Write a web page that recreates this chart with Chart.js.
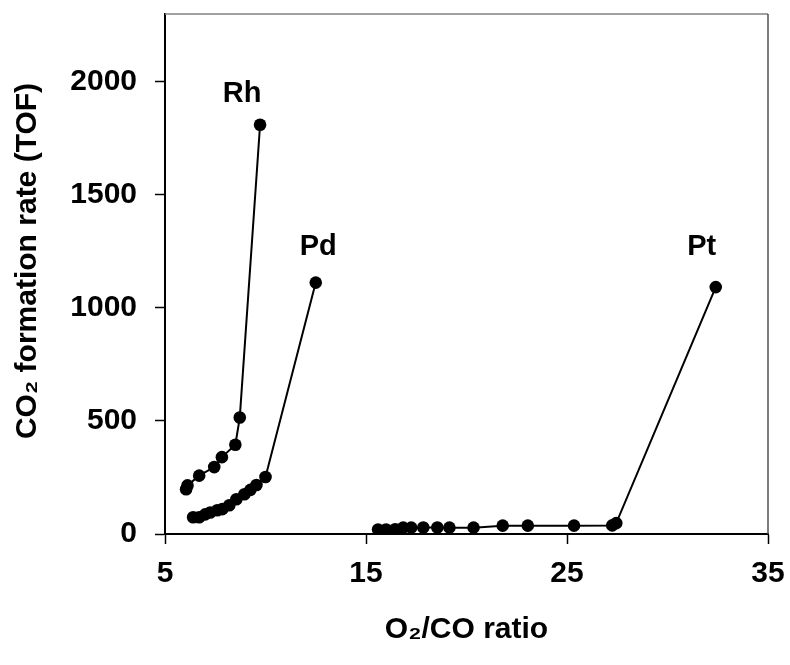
<!DOCTYPE html>
<html>
<head>
<meta charset="utf-8">
<script src="https://cdn.jsdelivr.net/npm/chart.js@4"></script>
<style>
    html, body { margin: 0; padding: 0; background: #fff; }
    #wrap { width: 790px; height: 665px; }
</style>
</head>
<body>
<div id="wrap"><canvas id="chart"></canvas></div>
<script>
// O2/CO ratio vs CO2 formation rate
const rhX = [6.05, 6.12, 6.7, 7.45, 7.83, 8.5, 8.72, 9.73];
const rhY = [198, 215, 258, 296, 340, 395, 515, 1810];

const pdX = [6.4, 6.7, 7.0, 7.25, 7.6, 7.85, 8.2, 8.55, 8.95, 9.25, 9.55, 10.0, 12.5];
const pdY = [74, 74, 87, 95, 105, 110, 127, 154, 176, 195, 217, 252, 1112];

const ptX = [15.6, 16.0, 16.45, 16.85, 17.25, 17.85, 18.55, 19.15, 20.35, 21.8, 23.05, 25.35, 27.25, 27.45, 32.4];
const ptY = [20, 20, 21, 28, 28, 29, 29, 28, 28, 37, 37, 37, 38, 48, 1092];

const xTicks = [5, 15, 25, 35];
const yTicks = [0, 500, 1000, 1500, 2000];

const metalNames = ["Rh", "Pd", "Pt"];
// where each metal's name sits, in data units
const metalLabelAt = [[8.84, 1947], [12.62, 1270], [31.7, 1270]];

const yTitle = "CO₂ formation rate (TOF)";
const xTitle = "O₂/CO ratio";

const FONT = "'Liberation Sans', Arial, sans-serif";

function toPoints(xs, ys) {
    return xs.map((x, i) => ({ x: x, y: ys[i] }));
}

function series(xs, ys) {
    return {
        data: toPoints(xs, ys),
        borderColor: "#000",
        backgroundColor: "#000",
        borderWidth: 2,
        pointRadius: 6.3,
        pointBorderWidth: 0,
        tension: 0,
        showLine: true,
    };
}

const framePlugin = {
    id: "frame",
    beforeDatasetsDraw(chart) {
        const { ctx, chartArea: a } = chart;
        ctx.save();
        ctx.strokeStyle = "#808080";
        ctx.lineWidth = 1.5;
        ctx.beginPath();
        ctx.moveTo(a.left, a.top);
        ctx.lineTo(a.right, a.top);
        ctx.stroke();
        ctx.strokeStyle = "#505050";
        ctx.beginPath();
        ctx.moveTo(a.right, a.top);
        ctx.lineTo(a.right, a.bottom);
        ctx.stroke();
        ctx.restore();
    },
    afterDatasetsDraw(chart) {
        const { ctx, scales, chartArea: a } = chart;
        ctx.save();
        ctx.fillStyle = "#000";
        ctx.font = "bold 29px " + FONT;
        ctx.textAlign = "center";
        ctx.textBaseline = "middle";
        metalNames.forEach((name, i) => {
            const [lx, ly] = metalLabelAt[i];
            ctx.fillText(name, scales.x.getPixelForValue(lx), scales.y.getPixelForValue(ly));
        });

        // y title sits a bit above the middle of the axis in the original
        ctx.font = "bold 30px " + FONT;
        ctx.translate(28, (a.top + a.bottom) / 2 - 13);
        ctx.rotate(-Math.PI / 2);
        ctx.fillText(yTitle, 0, 0);
        ctx.restore();
    },
};

const tickFont = { family: FONT, size: 30, weight: "bold" };
const titleFont = { family: FONT, size: 30, weight: "bold" };

new Chart(document.getElementById("chart"), {
    type: "scatter",
    data: {
        datasets: [series(rhX, rhY), series(pdX, pdY), series(ptX, ptY)],
    },
    options: {
        responsive: true,
        maintainAspectRatio: false,
        animation: false,
        layout: { padding: { top: 14, right: 22, left: 0, bottom: 0 } },
        plugins: {
            legend: { display: false },
            tooltip: { enabled: false },
        },
        scales: {
            x: {
                type: "linear",
                min: 5,
                max: 35,
                afterBuildTicks: (s) => { s.ticks = xTicks.map((v) => ({ value: v })); },
                afterFit: (s) => { s.height = 131; s.paddingLeft = 0; s.paddingRight = 0; },
                border: { color: "#000", width: 2 },
                grid: { drawOnChartArea: false, color: "#000", tickLength: 10, tickWidth: 1.5 },
                ticks: { color: "#000", font: tickFont, padding: 12, maxRotation: 0, callback: (v) => String(v) },
                title: {
                    display: true,
                    text: xTitle,
                    color: "#000",
                    font: titleFont,
                    padding: { top: 0, bottom: 17 },
                },
            },
            y: {
                type: "linear",
                min: 0,
                max: 2300,
                afterBuildTicks: (s) => { s.ticks = yTicks.map((v) => ({ value: v })); },
                afterFit: (s) => { s.width = 165; s.paddingTop = 0; s.paddingBottom = 0; },
                border: { color: "#000", width: 2 },
                grid: { drawOnChartArea: false, color: "#000", tickLength: 10, tickWidth: 1.5 },
                ticks: { color: "#000", font: tickFont, padding: 18, callback: (v) => String(v) },
                title: { display: false },
            },
        },
    },
    plugins: [framePlugin],
});
</script>
</body>
</html>
